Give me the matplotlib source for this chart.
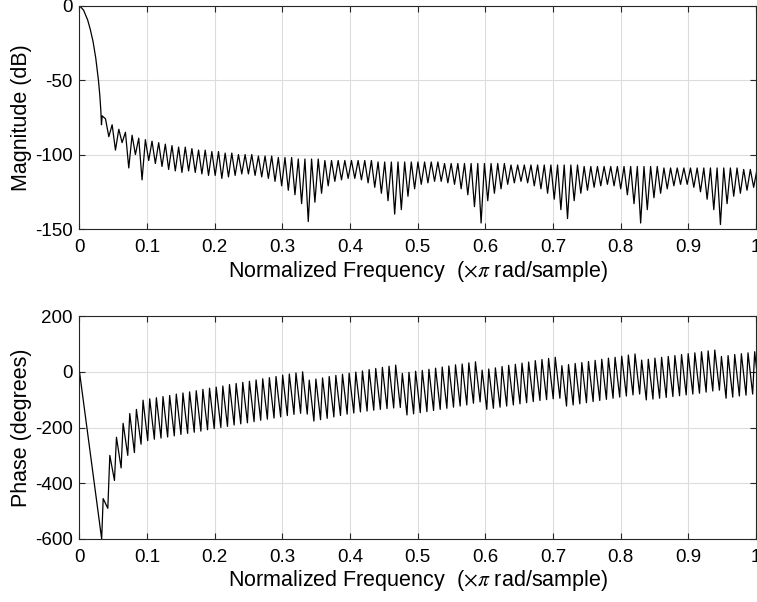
import numpy as np
import matplotlib
matplotlib.use("Agg")
import matplotlib.pyplot as plt

plt.rcParams['font.family'] = ['Liberation Sans', 'DejaVu Sans']
plt.rcParams['mathtext.fontset'] = 'stix'
plt.rcParams['axes.unicode_minus'] = False

# main lobe of the magnitude response
main_f = [0, 0.006, 0.012, 0.016, 0.020, 0.024, 0.028, 0.030, 0.0315, 0.0325, 0.0335]
main_db = [0, -3, -9.5, -16, -24, -35, -50, -60, -70, -80, -74]

# side lobes: one peak and one null per lobe
mag_peak = [-76, -80, -83, -85, -87, -89, -90, -91, -92, -93,
            -94, -95, -95, -96, -97, -97, -98, -98, -99, -99,
            -100, -100, -100, -101, -101, -101, -102, -102, -102, -103,
            -103, -103, -103, -104, -104, -104, -104, -104, -104, -104,
            -104, -105, -105, -105, -105, -105, -105, -105, -105, -105,
            -105, -106, -106, -106, -106, -106, -106, -106, -106, -106,
            -106, -107, -107, -107, -107, -107, -107, -107, -107, -107,
            -107, -107, -108, -108, -108, -108, -108, -108, -108, -108,
            -108, -108, -108, -108, -109, -109, -109, -109, -109, -109,
            -109, -109, -109, -109, -109, -109, -110, -110, -110]
mag_null = [-88, -97, -92, -109, -100, -117, -104, -106, -108, -110,
            -111, -112, -111, -112, -113, -114, -114, -116, -115, -114,
            -113, -113, -114, -115, -116, -118, -121, -124, -127, -133,
            -145, -132, -126, -121, -118, -117, -116, -116, -117, -119,
            -122, -126, -131, -140, -137, -128, -123, -120, -119, -118,
            -118, -119, -120, -123, -127, -135, -146, -131, -126, -123,
            -120, -119, -118, -119, -121, -123, -126, -130, -137, -143,
            -131, -126, -124, -122, -121, -120, -121, -123, -127, -133,
            -146, -137, -129, -126, -123, -121, -120, -120, -122, -125,
            -130, -137, -147, -133, -128, -126, -124, -122, -121]

# phase: linear part, then one top and one bottom per lobe (degrees)
lin_f = [0, 0.0328]
lin_deg = [0, -600]
ph_top = [-455, -300, -235, -185, -150, -135,
          -102, -97, -93, -89, -85, -80, -76, -72, -68, -63, -59, -55, -51,
          -46, -42, -38, -34, -29, -25, -21, -17, -12, -8, -4, 0,
          -30, -26, -22, -17, -13, -9, -5, -1, 3, 8, 12, 16, 20, 24,
          -6, -2, 2, 5, 9, 13, 17, 21, 25, 28, 32, 36,
          6, 10, 14, 19, 23, 27, 31, 35, 40, 44, 48, 52,
          22, 26, 30, 33, 37, 41, 45, 49, 52, 56, 60, 64,
          42, 45, 49, 52, 55, 58, 62, 65, 68, 72, 75, 78,
          55, 58, 62, 65, 68, 72]
ph_bot = [-490, -390, -345, -300, -290, -260,
          -247, -242, -238, -234, -230, -225, -221, -217, -213, -208, -204, -200, -196,
          -191, -187, -183, -179, -174, -170, -166, -162, -157, -153, -149, -152,
          -177, -172, -167, -162, -157, -152, -148, -144, -141, -138, -135, -132, -130, -128,
          -155, -151, -147, -143, -139, -135, -131, -127, -123, -119, -113, -108,
          -135, -131, -127, -123, -119, -115, -111, -107, -103, -100, -97, -95,
          -123, -119, -115, -111, -107, -103, -99, -95, -91, -87, -83, -80,
          -101, -98, -95, -92, -89, -86, -83, -80, -77, -73, -69, -66,
          -95, -91, -87, -84, -80, -77]

xticks = np.round(np.arange(0, 1.01, 0.1), 1)
xticklabels = ['0', '0.1', '0.2', '0.3', '0.4', '0.5', '0.6', '0.7', '0.8', '0.9', '1']

# lobe grid (evenly spaced side lobes)
n = len(mag_peak)
lobe_f = np.linspace(0.035, 0.998, n)
step = lobe_f[1] - lobe_f[0]

mag_x = list(main_f) + list(np.ravel(np.column_stack([lobe_f + 0.35 * step, lobe_f + 0.85 * step])))
mag_y = list(main_db) + list(np.ravel(np.column_stack([mag_peak, mag_null])))
ph_x = list(lin_f) + list(np.ravel(np.column_stack([lobe_f, lobe_f + 0.7 * step])))
ph_y = list(lin_deg) + list(np.ravel(np.column_stack([ph_top, ph_bot])))

fig = plt.figure(figsize=(7.57, 6.02), dpi=100)
ax1 = fig.add_axes([0.105, 0.6196, 0.8937, 0.371])
ax2 = fig.add_axes([0.105, 0.1047, 0.8937, 0.3703])

axcol = '#262626'
for ax in (ax1, ax2):
    ax.set_xlim(0, 1)
    ax.set_xticks(xticks)
    ax.set_xticklabels(xticklabels)
    ax.grid(True, color='#dcdcdc', linewidth=0.8)
    ax.set_axisbelow(True)
    ax.tick_params(direction='in', top=True, right=True, labelsize=13.5,
                   color=axcol, labelcolor='black', length=4, width=0.8)
    ax.tick_params(axis='x', pad=7)
    ax.tick_params(axis='y', pad=5)
    for s in ax.spines.values():
        s.set_color(axcol)
        s.set_linewidth(0.8)
    ax.set_xlabel('Normalized Frequency  ($\\times\\pi$ rad/sample)', fontsize=15.5, labelpad=2)

ax1.plot(mag_x, mag_y, color='black', linewidth=0.9)
ax1.set_ylim(-150, 0)
ax1.set_yticks([-150, -100, -50, 0])
ax1.set_yticklabels(['-150', '-100', '-50', '0'])
ax1.set_ylabel('Magnitude (dB)', fontsize=15.5, labelpad=2)

ax2.plot(ph_x, ph_y, color='black', linewidth=0.9)
ax2.set_ylim(-600, 200)
ax2.set_yticks([-600, -400, -200, 0, 200])
ax2.set_yticklabels(['-600', '-400', '-200', '0', '200'])
ax2.set_ylabel('Phase (degrees)', fontsize=15.5, labelpad=2)

fig.savefig('out.png', dpi=100)
